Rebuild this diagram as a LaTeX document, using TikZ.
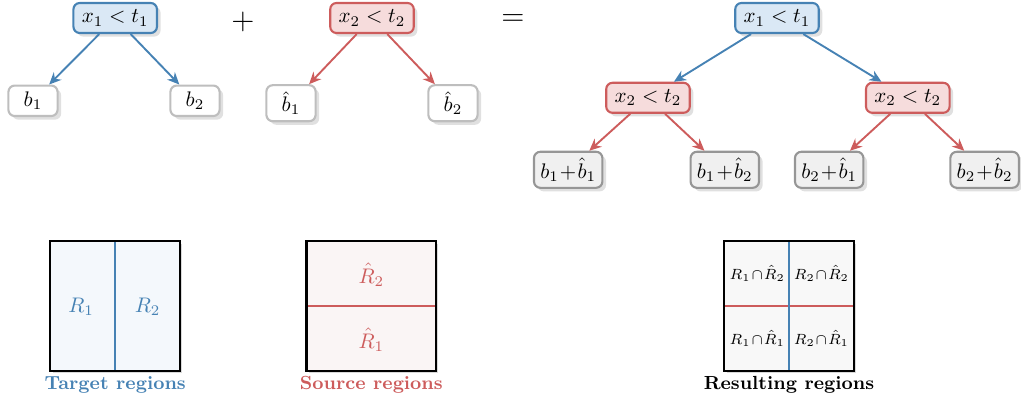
\documentclass[tikz,border=0pt]{standalone}
\usetikzlibrary{shadows,arrows.meta}
\definecolor{tgtblue}{RGB}{70,130,180}
\definecolor{tgtbluefill}{RGB}{218,232,245}
\definecolor{srcred}{RGB}{205,92,92}
\definecolor{srcredfill}{RGB}{246,220,220}
\definecolor{leafgray}{RGB}{190,190,190}
\definecolor{sumgray}{RGB}{150,150,150}
\definecolor{sumgrayfill}{RGB}{240,240,240}
\definecolor{tgtregion}{RGB}{244,248,252}
\definecolor{srcregion}{RGB}{250,245,245}
\definecolor{resregion}{RGB}{248,248,248}
\begin{document}
\begin{tikzpicture}[
    treenode/.style={line width=1pt, rounded corners=3pt, minimum height=0.5cm, inner xsep=4pt, inner ysep=3pt,
        drop shadow={shadow xshift=0.6mm, shadow yshift=-0.6mm, fill=black, opacity=0.12}},
    tgtsplit/.style={treenode, draw=tgtblue, fill=tgtbluefill},
    srcsplit/.style={treenode, draw=srcred, fill=srcredfill},
    leaf/.style={treenode, draw=leafgray, fill=white, minimum width=0.82cm},
    sumleaf/.style={treenode, draw=sumgray, fill=sumgrayfill, minimum width=1.1cm, inner xsep=3pt},
    tgtedge/.style={tgtblue, line width=0.9pt, -{Stealth[length=2mm, width=1.8mm]}},
    srcedge/.style={srcred, line width=0.9pt, -{Stealth[length=2mm, width=1.8mm]}},
    region/.style={minimum size=2.15cm, inner sep=0pt,
        drop shadow={shadow xshift=0.4mm, shadow yshift=-0.4mm, fill=black, opacity=0.15}},
    frame/.style={draw=black, line width=1pt},
    quarter/.style={font=\scriptsize, inner sep=1pt},
    caption/.style={font=\small\bfseries}
]
    \useasboundingbox (0,0) rectangle (17.017,-6.7);
    \node[tgtsplit] (t) at (1.92,-0.30) {$x_1 < t_1$};
    \node[leaf] (tl) at (0.55,-1.68) {$b_1$};
    \node[leaf] (tr) at (3.25,-1.68) {$b_2$};
    \draw[tgtedge] (t) -- (tl);
    \draw[tgtedge] (t) -- (tr);
    \node[font=\Large] (plus) at (4.05,-0.36) {$+$};
    \node[srcsplit] (s) at (6.20,-0.30) {$x_2 < t_2$};
    \node[leaf] (sl) at (4.85,-1.72) {$\hat{b}_1$};
    \node[leaf] (sr) at (7.55,-1.72) {$\hat{b}_2$};
    \draw[srcedge] (s) -- (sl);
    \draw[srcedge] (s) -- (sr);
    \node[font=\Large] (equals) at (8.55,-0.34) {$=$};
    \node[tgtsplit] (r) at (12.95,-0.30) {$x_1 < t_1$};
    \node[srcsplit] (rl) at (10.80,-1.63) {$x_2 < t_2$};
    \node[srcsplit] (rr) at (15.13,-1.63) {$x_2 < t_2$};
    \node[sumleaf] (rll) at (9.47,-2.83) {$b_1\!+\!\hat{b}_1$};
    \node[sumleaf] (rlr) at (12.08,-2.83) {$b_1\!+\!\hat{b}_2$};
    \node[sumleaf] (rrl) at (13.82,-2.83) {$b_2\!+\!\hat{b}_1$};
    \node[sumleaf] (rrr) at (16.41,-2.83) {$b_2\!+\!\hat{b}_2$};
    \draw[tgtedge] (r) -- (rl);
    \draw[tgtedge] (r) -- (rr);
    \draw[srcedge] (rl) -- (rll);
    \draw[srcedge] (rl) -- (rlr);
    \draw[srcedge] (rr) -- (rrl);
    \draw[srcedge] (rr) -- (rrr);
    \node[region, fill=tgtregion] (treg) at (1.92,-5.10) {};
    \draw[tgtblue, line width=1pt] (treg.north) -- (treg.south);
    \draw[frame] (treg.south west) rectangle (treg.north east);
    \node[tgtblue] (r1) at (1.35,-5.12) {$R_1$};
    \node[tgtblue] (r2) at (2.46,-5.12) {$R_2$};
    \node[caption, text=tgtblue] (tcap) at (1.92,-6.41) {Target regions};
    \node[region, fill=srcregion] (sreg) at (6.19,-5.10) {};
    \draw[srcred, line width=1pt] (sreg.west) -- (sreg.east);
    \draw[frame] (sreg.south west) rectangle (sreg.north east);
    \node[srcred] (hr2) at (6.19,-4.58) {$\hat{R}_2$};
    \node[srcred] (hr1) at (6.19,-5.66) {$\hat{R}_1$};
    \node[caption, text=srcred] (scap) at (6.19,-6.41) {Source regions};
    \node[region, fill=resregion] (rreg) at (13.15,-5.10) {};
    \draw[srcred, line width=1pt] (rreg.west) -- (rreg.east);
    \draw[tgtblue, line width=1pt] (rreg.north) -- (rreg.south);
    \draw[frame] (rreg.south west) rectangle (rreg.north east);
    \node[quarter] (q1) at (12.62,-4.56) {$R_1\!\cap\!\hat{R}_2$};
    \node[quarter] (q2) at (13.69,-4.56) {$R_2\!\cap\!\hat{R}_2$};
    \node[quarter] (q3) at (12.62,-5.64) {$R_1\!\cap\!\hat{R}_1$};
    \node[quarter] (q4) at (13.69,-5.64) {$R_2\!\cap\!\hat{R}_1$};
    \node[caption] (rcap) at (13.15,-6.41) {Resulting regions};
\end{tikzpicture}
\end{document}
